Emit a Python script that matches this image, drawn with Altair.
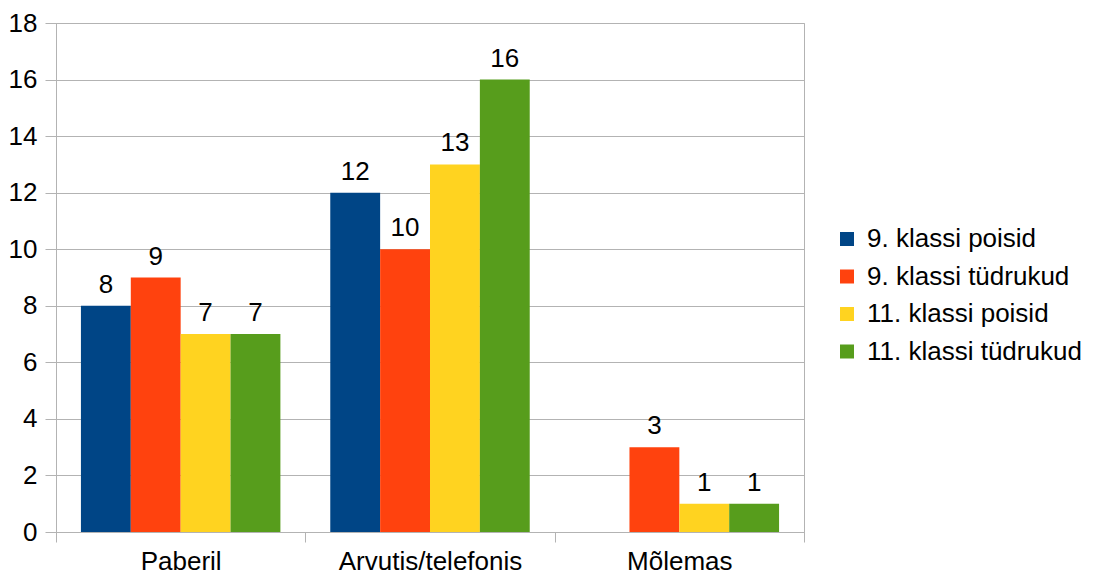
import altair as alt
import pandas as pd

categories = ["Paberil", "Arvutis/telefonis", "Mõlemas"]
series = ["9. klassi poisid", "9. klassi tüdrukud", "11. klassi poisid", "11. klassi tüdrukud"]
poisid_9 = [8, 12, 0]
tudrukud_9 = [9, 10, 3]
poisid_11 = [7, 13, 1]
tudrukud_11 = [7, 16, 1]
colors = ["#004586", "#ff420e", "#ffd320", "#579d1c"]
y_ticks = [0, 2, 4, 6, 8, 10, 12, 14, 16, 18]

rows = []
for s, vals in zip(series, [poisid_9, tudrukud_9, poisid_11, tudrukud_11]):
    for c, v in zip(categories, vals):
        rows.append({"category": c, "series": s, "value": v})
df = pd.DataFrame(rows)

FONT = "Liberation Sans"
GRID = "#b3b3b3"
FS = 26

base = alt.Chart(df).encode(
    x=alt.X(
        "category:N",
        sort=categories,
        scale=alt.Scale(paddingInner=0, paddingOuter=0),
        axis=alt.Axis(
            title=None, labelAngle=0, tickBand="extent", tickSize=10,
            tickColor=GRID, domainColor=GRID, labelFontSize=FS, labelFont=FONT,
            labelColor="black", labelPadding=6, grid=False, labelLimit=400,
        ),
    ),
    xOffset=alt.XOffset("series:N", sort=series,
                        scale=alt.Scale(paddingInner=0, paddingOuter=0.5)),
    y=alt.Y(
        "value:Q",
        scale=alt.Scale(domain=[0, 18], nice=False),
        axis=alt.Axis(
            title=None, values=y_ticks, tickSize=11, tickColor=GRID,
            domainColor=GRID, gridColor=GRID, labelFontSize=FS, labelFont=FONT,
            labelColor="black", labelPadding=8,
        ),
    ),
)

bars = base.mark_bar().encode(
    color=alt.Color(
        "series:N",
        sort=series,
        scale=alt.Scale(domain=series, range=colors),
        legend=alt.Legend(
            title=None, orient="none", legendX=778, legendY=203,
            symbolType="square", symbolSize=196, symbolStrokeWidth=0,
            labelFontSize=FS, labelFont=FONT, labelColor="black",
            labelOffset=7, rowPadding=11.5, labelLimit=400,
        ),
    )
)

text = base.mark_text(
    baseline="alphabetic", dy=-13, fontSize=FS, font=FONT, color="black"
).encode(text="value:Q").transform_filter("datum.value > 0")

chart = (
    alt.layer(bars, text)
    .properties(
        width=748, height=509,
        autosize=alt.AutoSizeParams(type="none"),
        padding={"left": 48, "top": 15, "right": 280, "bottom": 44},
    )
    .configure_view(stroke=GRID)
)

chart.save("out.html", embed_options={"renderer": "svg", "actions": False})
